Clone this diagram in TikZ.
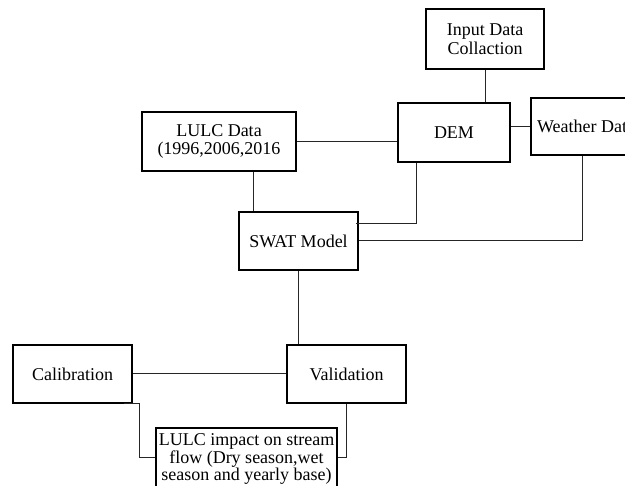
\documentclass[tikz,border=0pt]{standalone}
\usepackage{fontspec}
\setmainfont{Liberation Serif}
\begin{document}
\begin{tikzpicture}[x=1pt,y=-1pt,
  box/.style={draw, line width=1.1pt, rectangle, inner sep=1pt, align=center, font=\fontsize{18}{18.5}\selectfont},
  link/.style={line width=1pt, black!85}]
\clip (0,0) rectangle (625,486);
\useasboundingbox (0,0) rectangle (625,486);

\node[box, minimum width=118pt, minimum height=60pt] (input) at (485,39) {Input Data\\Collaction};
\node[box, minimum width=112pt, minimum height=59pt] (dem) at (454,132.5) {DEM};
\node[box, minimum width=110pt, minimum height=57pt] (weather) at (586,126.5) {Weather Data};
\node[box, minimum width=154pt, minimum height=59pt] (lulc) at (219,141.5) {LULC Data\\(1996,2006,2016};
\node[box, minimum width=119pt, minimum height=58pt] (swat) at (298.5,241) {SWAT Model};
\node[box, minimum width=119pt, minimum height=58pt] (calib) at (72.5,374) {Calibration};
\node[box, minimum width=119pt, minimum height=58pt] (valid) at (346.5,374) {Validation};
\node[box, minimum width=181pt, minimum height=62pt, font=\fontsize{18}{17.6}\selectfont] (impact) at (246.5,459) {LULC impact on stream\\flow (Dry season,wet\\season and yearly base)};

\draw[link] (input.south) -- (input.south |- dem.north);
\draw[link] (dem.east |- weather.west) -- (weather.west);
\draw[link] (lulc.east) -- (lulc.east -| dem.west);
\draw[link] ([xshift=34pt]lulc.south) -- ([xshift=34pt]lulc.south |- swat.north);
\draw[link] ([xshift=-38pt]dem.south) |- ([xshift=-3pt,yshift=17pt]swat.east);
\draw[link] ([xshift=-4pt]weather.south) |- (swat.east);
\draw[link] (swat.south) -- (swat.south |- valid.north);
\draw[link] (calib.east) -- (valid.west);
\coordinate (bend) at ([xshift=-16pt,yshift=1pt]impact.west);
\draw[link] ([xshift=-9pt]calib.south east) -| (bend) -- (bend -| impact.west);
\draw[link] (valid.south) |- ([yshift=1pt]impact.east);
\end{tikzpicture}
\end{document}
